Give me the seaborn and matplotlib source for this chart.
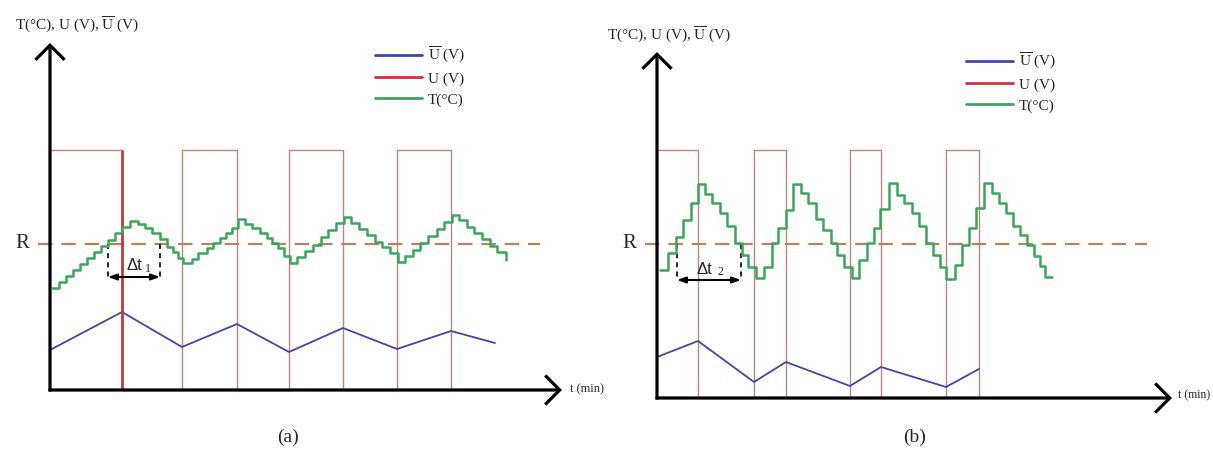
import numpy as np
import matplotlib
matplotlib.use("Agg")
import matplotlib.pyplot as plt
import seaborn as sns
from matplotlib.lines import Line2D

sns.set_theme(style="white")
plt.rcParams["font.family"] = ["Liberation Serif", "DejaVu Serif"]
plt.rcParams["mathtext.fontset"] = "stix"

# ---------------- data (schematic units: time t, level v) ----------------
# Panel (a)
ua_t = [0, 72, 132, 187, 239, 293, 347, 401]
ua_v = [240, 0, 240, 0, 240, 0, 240, 0]
uba_t = [0, 72, 132, 187, 239, 293, 347, 401, 445]
uba_v = [40, 78, 43, 66, 38, 62, 41, 59, 47]
ta_t = [2, 9, 16, 23, 30, 37, 44, 51, 58, 65, 72, 80, 88, 95, 102, 110, 117, 123,
        128, 133, 142, 148, 157, 163, 170, 176, 182, 188, 195, 202, 210, 217, 222,
        228, 234, 240, 247, 255, 263, 271, 278, 286, 294, 301, 309, 317, 325, 332,
        340, 348, 355, 363, 370, 378, 387, 394, 402, 409, 417, 424, 432, 440, 447, 456]
ta_v = [102, 108, 114, 120, 126, 132, 138, 144, 150, 157, 163, 169, 166, 162, 157,
        151, 143, 138, 132, 127, 131, 137, 142, 147, 152, 157, 162, 171, 166, 162,
        157, 152, 147, 142, 134, 127, 133, 139, 145, 153, 160, 167, 173, 167, 161,
        155, 148, 143, 137, 128, 134, 140, 147, 154, 161, 168, 175, 170, 163, 157,
        151, 144, 138, 130]
ra = 146
dta = (58, 110)

# Panel (b)
ub_t = [0, 41, 97, 129, 193, 224, 289, 322]
ub_v = [248, 0, 248, 0, 248, 0, 248, 0]
ubb_t = [0, 41, 97, 129, 193, 224, 289, 322]
ubb_v = [41, 57, 16, 36, 12, 31, 11, 29]
tb_t = [3, 11, 19, 26, 34, 41, 48, 55, 63, 70, 78, 85, 91, 99, 107, 115, 121, 129,
        136, 144, 151, 159, 166, 174, 180, 187, 195, 202, 210, 217, 223, 232, 240,
        247, 255, 262, 269, 276, 283, 289, 298, 305, 312, 319, 327, 335, 342, 349,
        356, 363, 370, 377, 383, 388, 395]
tb_v = [128, 145, 161, 178, 195, 214, 204, 195, 185, 172, 155, 143, 131, 120, 131,
        155, 170, 188, 214, 205, 195, 179, 168, 155, 143, 131, 120, 138, 155, 170,
        189, 215, 203, 195, 185, 172, 155, 143, 131, 119, 133, 153, 170, 190, 215,
        205, 195, 185, 172, 163, 153, 142, 132, 121, 121]
rb = 154
dtb = (20, 84)

labels = [r"$\overline{\mathrm{U}}$ (V)", "U (V)", "T(°C)"]
ylab = r"T(°C), U (V), $\overline{\mathrm{U}}$ (V)"

C_BLUE = "#3f48a6"
C_RED = "#cf3340"
C_GREEN = "#3ba65a"
C_PULSE = "#bf8585"
C_R = "#b5845c"

W, H = 1213, 450
fig = plt.figure(figsize=(W / 100, H / 100), dpi=100)
ax_a = fig.add_axes([0, 0, 606 / W, 1])
ax_b = fig.add_axes([606 / W, 0, 607 / W, 1])
ax_a.set_xlim(-50, 556); ax_a.set_ylim(-60, 390)
ax_b.set_xlim(-51, 556); ax_b.set_ylim(-52, 398)


def panel(ax, u_t, u_v, ub_t_, ub_v_, t_t, t_v, r, dt, sub, ytip, xtip,
          ylab_xy, tmin_xy, tmin_fs, name_xy, name, leg_xy, highlight, dtoff):
    ax.set_axis_off()
    # pulses U
    sns.lineplot(x=u_t, y=u_v, ax=ax, drawstyle="steps-post", color=C_PULSE,
                 linewidth=1.0, sort=False, estimator=None, legend=False)
    if highlight:
        ax.vlines(u_t[1], 0, u_v[0], color="#c23a3a", linewidth=2.0, zorder=3)
    # U bar
    sns.lineplot(x=ub_t_, y=ub_v_, ax=ax, color=C_BLUE, linewidth=1.3,
                 sort=False, estimator=None, legend=False)
    # T
    sns.lineplot(x=t_t, y=t_v, ax=ax, drawstyle="steps-post", color=C_GREEN,
                 linewidth=1.8, sort=False, estimator=None, legend=False, zorder=4)
    # R reference
    ax.plot([-12, 490], [r, r], color=C_R, linewidth=1.6, dashes=(6.5, 4), zorder=2)
    ax.text(-28, r, "R", fontsize=15, ha="center", va="center")
    # axes with open arrowheads
    astyle = "->,head_length=10.5,head_width=10.5"
    for xy, xyt in [((0, ytip), (0, -1.5)), ((xtip, 0), (-1.5, 0))]:
        ax.annotate("", xy=xy, xytext=xyt,
                    arrowprops=dict(arrowstyle=astyle, mutation_scale=1,
                                    lw=2.3, color="black", shrinkA=0, shrinkB=0,
                                    joinstyle="miter", capstyle="butt"))
    ax.text(ylab_xy[0], ylab_xy[1], ylab, fontsize=11, ha="left", va="center")
    ax.text(tmin_xy[0], tmin_xy[1], "t (min)", fontsize=tmin_fs, ha="left",
            va="center")
    ax.text(name_xy[0], name_xy[1], name, fontsize=14, ha="center", va="center")
    # delta t
    ya = dt[2]
    for xv in dt[:2]:
        ax.plot([xv, xv], [r, ya], color="black", linewidth=1.2, dashes=(3, 2.5))
    ax.annotate("", xy=(dt[1], ya), xytext=(dt[0], ya),
                arrowprops=dict(arrowstyle="<|-|>,head_length=0.5,head_width=0.18",
                                mutation_scale=10, lw=1.5, color="black",
                                shrinkA=0, shrinkB=0))
    xc = (dt[0] + dt[1]) / 2
    ax.text(xc + dtoff[0], ya + 11, "Δt", fontsize=12, ha="right", va="center",
            family="Liberation Sans")
    ax.text(xc + dtoff[1], ya + 8, sub, fontsize=8.5, ha="left", va="center")
    handles = [Line2D([], [], color=C_BLUE, lw=2.0),
               Line2D([], [], color=C_RED, lw=2.0),
               Line2D([], [], color=C_GREEN, lw=2.0)]
    ax.legend(handles, labels, loc="upper left", bbox_to_anchor=leg_xy,
              bbox_transform=ax.transData, frameon=False, fontsize=11,
              handlelength=3.1, handletextpad=0.35, labelspacing=0.45,
              borderpad=0, borderaxespad=0)


panel(ax_a, ua_t, ua_v, uba_t, uba_v, ta_t, ta_v, ra, (dta[0], dta[1], 113), "1",
      347, 512, (-35, 365), (520, 1), 9, (238, -47), "(a)", (325, 345), True,
      (8, 11))
panel(ax_b, ub_t, ub_v, ubb_t, ubb_v, tb_t, tb_v, rb, (dtb[0], dtb[1], 118), "2",
      346, 515, (-50, 363), (521, 3), 8.5, (258, -39), "(b)", (309, 347), False,
      (3, 8))

fig.savefig("out.png", dpi=100)
